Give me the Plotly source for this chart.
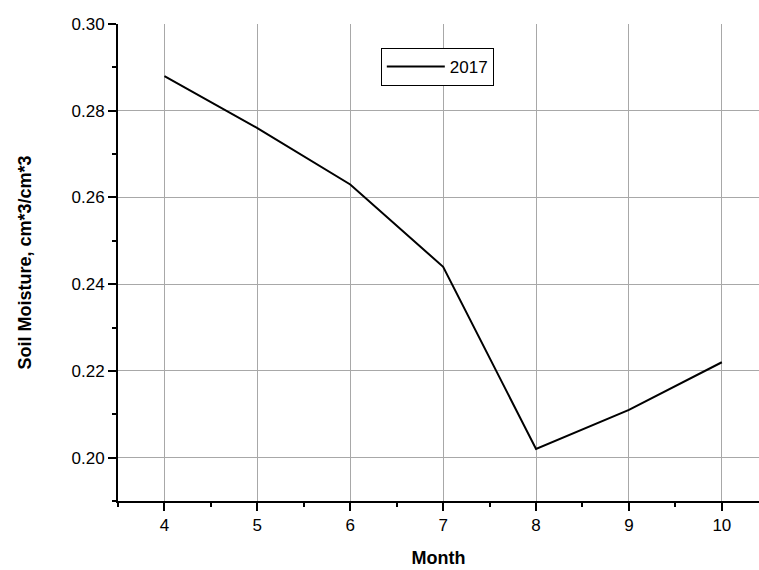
import plotly.graph_objects as go

months = [4, 5, 6, 7, 8, 9, 10]
moisture_2017 = [0.288, 0.276, 0.263, 0.244, 0.202, 0.211, 0.222]
series_name = "2017"
y_ticks = [0.20, 0.22, 0.24, 0.26, 0.28, 0.30]
y_tick_labels = ["0.20", "0.22", "0.24", "0.26", "0.28", "0.30"]
x_ticks = [4, 5, 6, 7, 8, 9, 10]

fig = go.Figure()
fig.add_trace(go.Scatter(
    x=months, y=moisture_2017, mode="lines", name=series_name,
    line=dict(color="black", width=2),
))

FAM = "Liberation Sans, Arial, sans-serif"
font = dict(family=FAM, size=17, color="black")

fig.update_layout(
    width=759, height=570,
    margin=dict(l=118, r=0, t=24, b=69),
    paper_bgcolor="white", plot_bgcolor="white",
    font=font,
    showlegend=True,
    legend=dict(
        x=0.41, y=0.95, xanchor="left", yanchor="top",
        bordercolor="black", borderwidth=1, bgcolor="white",
        font=dict(family=FAM, size=17, color="black"),
        tracegroupgap=0, itemwidth=58,
    ),
    xaxis=dict(
        range=[3.5, 10.4], tickvals=x_ticks,
        showgrid=True, gridcolor="#a8a8a8", gridwidth=1,
        showline=True, linecolor="black", linewidth=2,
        ticks="outside", ticklen=8, tickwidth=2, tickcolor="black",
        minor=dict(ticks="outside", ticklen=4, tickwidth=2, tickcolor="black", dtick=0.5, showgrid=False),
        zeroline=False,
        title=dict(text="<b>Month</b>", standoff=17, font=dict(family=FAM, size=18)),
        tickfont=dict(family=FAM, size=17),
    ),
    yaxis=dict(
        range=[0.19, 0.30], tickvals=y_ticks, ticktext=y_tick_labels,
        showgrid=True, gridcolor="#a8a8a8", gridwidth=1,
        showline=True, linecolor="black", linewidth=2,
        ticks="outside", ticklen=8, tickwidth=2, tickcolor="black",
        minor=dict(ticks="outside", ticklen=4, tickwidth=2, tickcolor="black", dtick=0.01, tick0=0.19, showgrid=False),
        zeroline=False,
        title=dict(text="<b>Soil Moisture, cm*3/cm*3</b>", standoff=35, font=dict(family=FAM, size=18)),
        tickfont=dict(family=FAM, size=17),
    ),
    shapes=[dict(type="line", xref="paper", yref="paper", x0=0.002, x1=1, y0=1, y1=1,
                 line=dict(color="white", width=2), layer="between")],
)

fig.write_html("out.html", config={"displayModeBar": False},
               post_script="document.body.style.margin='0';document.body.style.overflow='hidden';")
